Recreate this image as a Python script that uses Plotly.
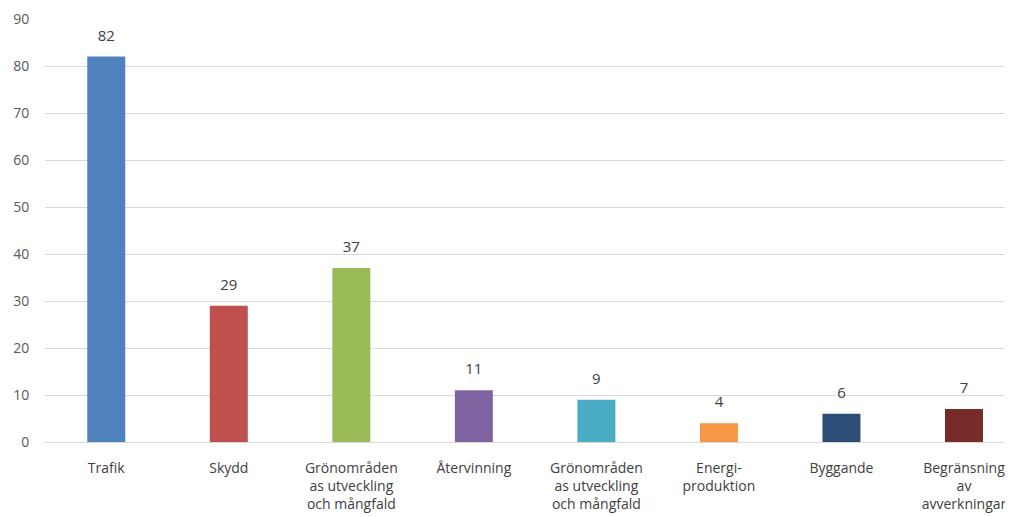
import plotly.graph_objects as go

categories = ["Trafik", "Skydd", "Grönområden<br>as utveckling<br>och mångfald", "Återvinning",
              "Grönområden<br>as utveckling<br>och mångfald", "Energi-<br>produktion", "Byggande",
              "Begränsning<br>av<br>avverkningar"]
values = [82, 29, 37, 11, 9, 4, 6, 7]
colors = ["#4F81BD", "#C0504D", "#9BBB59", "#8064A2", "#4BACC6", "#F79646", "#2C4D75", "#772C2A"]
y_ticks = [0, 10, 20, 30, 40, 50, 60, 70, 80, 90]

positions = list(range(len(categories)))
FONT = "Open Sans, Liberation Sans, sans-serif"

fig = go.Figure()
fig.add_trace(go.Bar(
    x=positions, y=values, marker=dict(color=colors, line=dict(width=0)),
    width=0.31, hoverinfo="skip",
))
fig.add_trace(go.Scatter(
    x=positions, y=values, mode="markers+text",
    marker=dict(size=18, color="rgba(0,0,0,0)"),
    text=[str(v) for v in values], textposition="top center",
    textfont=dict(family=FONT, size=15, color="#404040"),
    cliponaxis=False,
))

fig.update_layout(
    width=1013, height=517,
    margin=dict(l=37, r=8, t=11, b=83),
    paper_bgcolor="white", plot_bgcolor="white",
    showlegend=False,
    font=dict(family=FONT, size=14, color="#595959"),
    xaxis=dict(tickmode="array", tickvals=positions, ticktext=categories,
               range=[-0.5, 7.4], showgrid=False, zeroline=False, automargin=False,
               ticks="outside", ticklen=13, tickcolor="rgba(0,0,0,0)",
               tickfont=dict(family=FONT, size=14, color="#404040")),
    yaxis=dict(range=[0, 90], tickmode="array", tickvals=y_ticks, automargin=False,
               showgrid=True, gridcolor="#D9D9D9", gridwidth=1,
               zeroline=True, zerolinecolor="#D9D9D9", zerolinewidth=1,
               ticks="outside", ticklen=12, tickcolor="rgba(0,0,0,0)",
               tickfont=dict(family=FONT, size=14, color="#595959")),
)

fig.write_html("out.html")
